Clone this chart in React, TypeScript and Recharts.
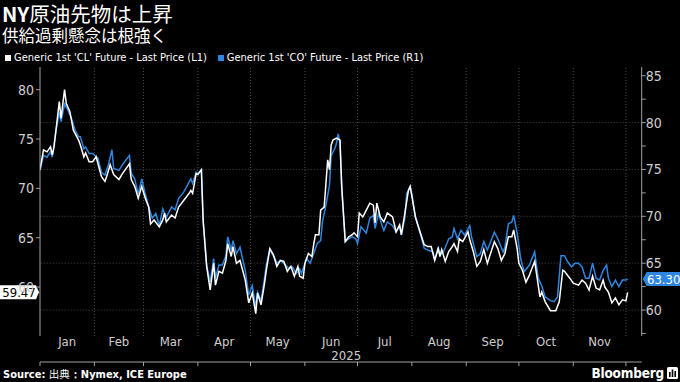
import React from "react";
import { LineChart, Line, XAxis, YAxis, ReferenceLine } from "recharts";

// day of year (Jan 1 = 0), 2025
const wtiDays = [0, 2, 4, 6, 7, 8, 11, 12, 14, 15, 17, 19, 22, 23, 25, 26, 28, 30, 32, 35, 37, 38, 40, 42, 45, 47, 51, 52, 54, 56, 58, 60, 62, 63, 65, 68, 70, 71, 72, 75, 77, 79, 82, 85, 86, 87, 89, 90, 92, 93, 95, 97, 99, 100, 102, 104, 106, 107, 109, 110, 112, 114, 117, 119, 121, 123, 124, 126, 128, 129, 131, 133, 135, 137, 139, 141, 143, 145, 147, 148, 150, 151, 153, 155, 156, 157, 159, 160, 162, 164, 165, 166, 167, 169, 171, 172, 174, 176, 178, 179, 181, 182, 184, 186, 188, 190, 191, 192, 194, 196, 198, 201, 203, 205, 206, 208, 210, 211, 212, 214, 217, 219, 221, 223, 225, 227, 228, 229, 231, 233, 235, 236, 238, 239, 241, 244, 245, 247, 249, 251, 253, 255, 259, 261, 263, 265, 267, 269, 270, 272, 273, 275, 277, 279, 280, 282, 285, 286, 288, 291, 294, 296, 298, 299, 302, 304, 307, 309, 311, 313, 315, 317, 319, 321, 322, 324, 326, 328, 330, 332, 334, 335];
const wtiPrices = [71.9, 73.9, 73.7, 74.2, 73.4, 74.2, 78.8, 77.1, 80.0, 78.6, 77.8, 75.9, 74.9, 74.4, 73.2, 73.6, 72.7, 72.7, 73.2, 71.2, 70.7, 71.2, 72.4, 71.4, 70.9, 71.5, 72.5, 70.9, 70.2, 69.0, 70.2, 69.0, 68.1, 66.4, 66.8, 66.1, 66.8, 67.5, 66.6, 67.3, 67.0, 68.1, 68.8, 69.5, 69.8, 69.5, 71.5, 71.4, 71.9, 66.8, 62.1, 59.7, 62.4, 60.2, 61.6, 61.4, 62.7, 64.4, 63.1, 64.1, 62.4, 62.7, 60.7, 58.4, 59.4, 57.3, 59.4, 58.2, 60.4, 61.7, 63.9, 63.3, 62.1, 62.7, 62.6, 61.6, 62.1, 61.1, 62.1, 61.1, 60.9, 62.4, 63.4, 63.1, 64.3, 65.3, 65.3, 67.8, 68.1, 72.9, 71.9, 74.4, 74.9, 75.1, 74.9, 70.2, 64.6, 65.1, 65.3, 65.5, 65.1, 67.5, 67.1, 67.8, 68.5, 68.3, 66.5, 68.5, 67.1, 66.6, 67.5, 67.1, 65.6, 66.3, 65.3, 67.5, 69.8, 70.2, 69.2, 67.1, 65.4, 64.3, 64.1, 64.1, 62.7, 63.9, 63.1, 63.8, 62.6, 63.6, 64.1, 64.4, 63.6, 64.9, 64.6, 65.6, 64.8, 63.6, 62.1, 62.6, 63.8, 62.4, 64.6, 63.9, 62.7, 63.4, 65.1, 65.1, 65.8, 63.9, 62.4, 61.7, 60.5, 61.2, 61.7, 62.6, 59.0, 59.5, 58.5, 57.6, 57.6, 58.5, 61.7, 61.6, 60.9, 60.4, 60.2, 60.7, 60.4, 59.7, 61.1, 59.9, 59.7, 60.7, 60.0, 59.5, 58.4, 58.9, 58.2, 58.7, 58.6, 59.47];

const brentDays = [0, 2, 4, 6, 7, 9, 11, 12, 14, 16, 18, 20, 22, 23, 25, 26, 28, 30, 33, 35, 37, 39, 41, 42, 45, 47, 51, 52, 54, 56, 58, 60, 62, 64, 66, 68, 70, 72, 75, 77, 79, 82, 84, 86, 87, 89, 90, 92, 93, 95, 97, 99, 100, 102, 104, 106, 107, 109, 110, 112, 114, 117, 119, 121, 123, 124, 126, 128, 129, 131, 134, 135, 137, 140, 142, 144, 146, 148, 149, 152, 154, 156, 158, 160, 161, 163, 165, 166, 168, 169, 170, 171, 172, 174, 176, 178, 180, 181, 183, 186, 188, 190, 191, 193, 195, 196, 198, 201, 203, 205, 206, 208, 209, 211, 212, 214, 217, 219, 221, 224, 225, 227, 228, 230, 233, 235, 236, 238, 240, 242, 245, 246, 249, 251, 253, 255, 259, 261, 264, 265, 267, 269, 270, 272, 274, 276, 279, 280, 282, 284, 286, 288, 291, 293, 295, 297, 299, 301, 303, 305, 307, 309, 311, 313, 315, 317, 319, 321, 323, 324, 326, 328, 330, 332, 334, 335];
const brentPrices = [74.9, 76.5, 76.3, 76.9, 76.3, 79.0, 81.1, 80.1, 82.0, 81.3, 80.4, 79.2, 78.5, 78.5, 77.2, 77.4, 76.7, 76.7, 76.2, 74.7, 74.4, 75.5, 77.1, 75.1, 74.9, 75.5, 76.5, 74.6, 74.0, 72.4, 74.0, 72.4, 71.0, 69.8, 70.3, 69.0, 70.8, 69.9, 71.0, 70.7, 71.9, 72.6, 73.3, 74.0, 73.5, 74.7, 74.6, 74.9, 69.4, 64.8, 63.0, 65.5, 63.4, 64.8, 64.8, 65.8, 67.8, 66.4, 67.4, 66.0, 66.7, 64.2, 61.6, 62.6, 60.3, 61.9, 61.0, 63.4, 64.8, 66.4, 65.5, 65.0, 65.3, 64.8, 64.4, 64.6, 63.9, 64.4, 63.9, 65.5, 65.0, 66.0, 67.1, 67.4, 69.4, 71.2, 73.3, 76.5, 77.2, 77.8, 78.8, 77.9, 73.0, 67.3, 67.6, 67.8, 67.6, 67.1, 68.9, 68.2, 69.8, 70.1, 68.7, 70.3, 69.0, 68.5, 69.4, 69.0, 68.3, 69.0, 68.0, 69.8, 72.4, 73.1, 72.4, 69.9, 68.0, 66.6, 66.4, 66.2, 65.3, 66.7, 65.8, 66.2, 67.6, 67.8, 68.7, 67.6, 68.5, 68.0, 69.0, 67.8, 65.7, 66.0, 67.3, 66.4, 68.3, 67.6, 66.2, 66.7, 69.2, 69.4, 70.1, 68.2, 65.5, 64.1, 64.8, 65.3, 66.2, 63.4, 62.6, 61.4, 61.0, 60.9, 61.4, 65.8, 65.8, 65.1, 64.6, 65.0, 65.0, 64.6, 63.4, 63.4, 65.0, 63.4, 63.2, 64.2, 64.8, 63.4, 62.5, 63.2, 62.5, 63.2, 63.2, 63.3];

const monthStarts = [0, 31, 59, 90, 120, 151, 181, 212, 243, 273, 304, 334];
const monthNames = ["Jan", "Feb", "Mar", "Apr", "May", "Jun", "Jul", "Aug", "Sep", "Oct", "Nov"];
const leftTicks = [60, 65, 70, 75, 80];
const rightTicks = [57.5, 60, 62.5, 65, 67.5, 70, 72.5, 75, 77.5, 80, 82.5, 85];
const gridValues = [60, 65, 70, 75, 80];
const wtiLast = 59.47;
const brentLast = 63.3;

const wti = wtiDays.map((d, i) => ({ day: d, price: wtiPrices[i] }));
const brent = brentDays.map((d, i) => ({ day: d, price: brentPrices[i] }));
const monthMids = monthNames.map((_, i) => (monthStarts[i] + monthStarts[i + 1]) / 2);

const WHITE = "#ffffff";
const BLUE = "#2f86e0";
const GREY = "#cfcfcf";
const AXIS = "#a0a0a0";
const FONT = "'Liberation Sans Narrow', 'DejaVu Sans Condensed', Roboto, sans-serif";
const CJK = "'Noto Sans CJK JP', sans-serif";

const MonthTick = (props: any) => {
  const { x, y, index } = props;
  return (
    <g>
      <text x={x} y={y + 10} fill={GREY} fontSize={13} textAnchor="middle" fontFamily={FONT}>
        {monthNames[index]}
      </text>
      {monthNames[index] === "Jun" && (
        <text x={x + 15} y={y + 24} fill={GREY} fontSize={13} textAnchor="middle" fontFamily={FONT}>
          2025
        </text>
      )}
    </g>
  );
};

const RightTick = (props: any) => {
  const { x, y, payload } = props;
  if (payload.value % 5 !== 0) return <g />;
  return (
    <text x={x} y={y + 5} fill={GREY} fontSize={14} textAnchor="start" fontFamily={FONT}>
      {payload.value}
    </text>
  );
};

const LeftTag = (props: any) => {
  const { viewBox } = props;
  const x0 = viewBox.x;
  const y = viewBox.y;
  return (
    <g>
      <polygon
        points={`${x0 - 40},${y - 7} ${x0 - 4},${y - 7} ${x0 - 1},${y} ${x0 - 4},${y + 7} ${x0 - 40},${y + 7}`}
        fill={WHITE}
      />
      <text x={x0 - 21} y={y + 4.5} fill="#000" fontSize={13} textAnchor="middle" fontFamily={FONT}>
        {wtiLast.toFixed(2)}
      </text>
    </g>
  );
};

const RightTag = (props: any) => {
  const { viewBox } = props;
  const x1 = viewBox.x + viewBox.width;
  const y = viewBox.y;
  return (
    <g>
      <polygon
        points={`${x1 + 1},${y} ${x1 + 5},${y - 7} ${x1 + 40},${y - 7} ${x1 + 40},${y + 7} ${x1 + 5},${y + 7}`}
        fill={BLUE}
      />
      <text x={x1 + 22} y={y + 4.5} fill="#fff" fontSize={13} textAnchor="middle" fontFamily={FONT}>
        {brentLast.toFixed(2)}
      </text>
    </g>
  );
};

export default function App() {
  return (
    <div
      style={{
        position: "absolute",
        left: 0,
        top: 0,
        width: 680,
        height: 382,
        background: "#000",
        overflow: "hidden",
        fontFamily: FONT,
      }}
    >
      <div style={{ position: "absolute", left: 2, top: 1, color: WHITE, fontSize: 20.5, lineHeight: "25px", fontFamily: CJK, whiteSpace: "nowrap" }}>
        <b>NY</b>原油先物は上昇
      </div>
      <div style={{ position: "absolute", left: 2, top: 26, color: WHITE, fontSize: 16.5, lineHeight: "19px", fontFamily: CJK, whiteSpace: "nowrap" }}>
        供給過剰懸念は根強く
      </div>
      <div style={{ position: "absolute", left: 5, top: 50, color: WHITE, fontSize: 11, lineHeight: "16px", whiteSpace: "nowrap", display: "flex", alignItems: "center" }}>
        <span style={{ width: 6, height: 6, background: WHITE, display: "inline-block", marginRight: 3 }} />
        <span>Generic 1st 'CL' Future - Last Price (L1)</span>
        <span style={{ width: 6, height: 6, background: BLUE, display: "inline-block", marginLeft: 11, marginRight: 3 }} />
        <span>Generic 1st 'CO' Future - Last Price (R1)</span>
      </div>

      <div style={{ position: "absolute", left: 0, top: 0 }}>
        <LineChart width={680} height={382} margin={{ top: 67, right: 0, bottom: 16, left: 0 }}>
          <XAxis
            xAxisId="x"
            dataKey="day"
            type="number"
            domain={[0, 343]}
            ticks={monthStarts}
            allowDataOverflow
            height={4}
            tickSize={4}
            tick={() => <g />}
            stroke={AXIS}
            axisLine={{ stroke: AXIS }}
            tickLine={{ stroke: AXIS }}
          />
          <XAxis
            xAxisId="lab"
            dataKey="day"
            type="number"
            domain={[0, 343]}
            ticks={monthMids}
            allowDataOverflow
            height={26}
            tickSize={0}
            tickMargin={0}
            axisLine={false}
            tickLine={false}
            tick={<MonthTick />}
            interval={0}
          />
          <YAxis
            yAxisId="left"
            orientation="left"
            type="number"
            domain={[55.04, 82.3]}
            ticks={leftTicks}
            allowDataOverflow
            width={40}
            tickSize={4}
            tickMargin={2}
            interval={0}
            axisLine={{ stroke: AXIS }}
            tickLine={{ stroke: AXIS }}
            tick={{ fill: GREY, fontSize: 14, fontFamily: FONT }}
          />
          <YAxis
            yAxisId="right"
            orientation="right"
            type="number"
            domain={[57.23, 85.93]}
            ticks={rightTicks}
            allowDataOverflow
            width={38.3}
            tickSize={4}
            tickMargin={0}
            interval={0}
            axisLine={{ stroke: AXIS }}
            tickLine={{ stroke: AXIS }}
            tick={<RightTick />}
          />
          {monthStarts.slice(1).map((m) => (
            <ReferenceLine key={"v" + m} xAxisId="x" yAxisId="right" x={m} stroke="#4a4a4a" strokeDasharray="1 2" />
          ))}
          {gridValues.map((v) => (
            <ReferenceLine key={"h" + v} xAxisId="x" yAxisId="right" y={v} stroke="#4a4a4a" strokeDasharray="1 2" />
          ))}
          <Line
            xAxisId="x"
            yAxisId="right"
            data={brent}
            dataKey="price"
            stroke={BLUE}
            strokeWidth={1.5}
            dot={false}
            isAnimationActive={false}
          />
          <Line
            xAxisId="x"
            yAxisId="left"
            data={wti}
            dataKey="price"
            stroke={WHITE}
            strokeWidth={1.5}
            dot={false}
            isAnimationActive={false}
          />
          <ReferenceLine xAxisId="x" yAxisId="left" y={wtiLast} stroke="none" label={<LeftTag />} />
          <ReferenceLine xAxisId="x" yAxisId="right" y={brentLast} stroke="none" label={<RightTag />} />
        </LineChart>
      </div>

      <div style={{ position: "absolute", left: 3, top: 366, color: WHITE, fontSize: 11, fontWeight: "bold", lineHeight: "16px", whiteSpace: "nowrap" }}>
        Source: <span style={{ fontWeight: "normal", fontFamily: CJK, fontSize: 10.5 }}>出典</span>：Nymex, ICE Europe
      </div>
      <div style={{ position: "absolute", right: 16, top: 365, color: WHITE, fontSize: 13.5, fontWeight: "bold", lineHeight: "17px", whiteSpace: "nowrap", letterSpacing: -0.2 }}>
        Bloomberg
      </div>
      <svg style={{ position: "absolute", left: 667, top: 367 }} width={11} height={12}>
        <rect x={0} y={0} width={11} height={12} rx={1.5} fill={WHITE} />
        <rect x={2} y={5} width={1.6} height={5} fill="#000" />
        <rect x={4.7} y={2.5} width={1.6} height={7.5} fill="#000" />
        <rect x={7.4} y={4} width={1.6} height={6} fill="#000" />
      </svg>
    </div>
  );
}
